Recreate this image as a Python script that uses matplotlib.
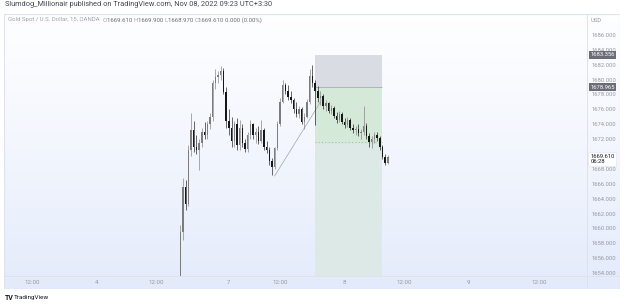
import numpy as np
import matplotlib.pyplot as plt
from matplotlib.patches import Rectangle
from matplotlib.transforms import blended_transform_factory

plt.rcParams['font.family'] = ['Roboto', 'DejaVu Sans']

# x axis = number of 15 min bars since Nov 3 12:00, candles are 30 min
fri_start, fri_count = 110, 18
mon_start, mon_count = 146, 60

opens = [1651.0, 1659.5, 1665.5, 1663.3, 1670.5, 1673.2, 1671.0, 1670.6, 1671.5, 1673.0,
         1672.5, 1674.0, 1675.0, 1679.5, 1680.3, 1680.6, 1681.2, 1678.3,
         1674.5, 1673.5, 1671.8, 1674.0, 1671.2, 1673.5, 1671.5, 1670.7, 1672.5, 1674.0,
         1672.5, 1673.0, 1671.8, 1673.2, 1671.0, 1670.6, 1669.0, 1668.2, 1670.8, 1674.0,
         1677.0, 1679.3, 1678.5, 1677.6, 1677.2, 1676.0, 1675.4, 1676.0, 1674.3, 1675.0,
         1677.0, 1680.5, 1679.5, 1678.5, 1677.5, 1677.8, 1676.4, 1676.8, 1675.8, 1676.2,
         1675.1, 1674.6, 1675.4, 1674.3, 1673.9, 1674.6, 1673.5, 1673.2, 1673.4, 1672.8,
         1673.0, 1673.8, 1672.4, 1671.6, 1672.0, 1672.6, 1672.2, 1671.0, 1669.6, 1668.8]
highs = [1660.5, 1666.8, 1666.5, 1671.2, 1675.5, 1674.5, 1672.5, 1672.0, 1673.5, 1674.3,
         1674.5, 1675.5, 1680.0, 1681.4, 1681.2, 1681.8, 1681.5, 1679.0,
         1676.0, 1675.0, 1674.5, 1674.8, 1674.6, 1674.0, 1672.0, 1673.0, 1674.6, 1674.2,
         1673.5, 1673.8, 1674.6, 1673.5, 1671.8, 1671.0, 1669.5, 1671.0, 1674.5, 1677.5,
         1679.9, 1679.6, 1679.3, 1678.5, 1677.5, 1677.0, 1676.5, 1676.3, 1675.5, 1677.4,
         1681.4, 1682.0, 1680.0, 1679.2, 1678.5, 1678.0, 1677.2, 1677.0, 1676.6, 1676.4,
         1675.6, 1675.8, 1675.6, 1674.8, 1675.0, 1674.8, 1674.0, 1673.8, 1674.0, 1673.3,
         1676.5, 1674.2, 1672.8, 1672.4, 1672.9, 1673.0, 1672.4, 1671.2, 1670.0, 1669.9]
lows = [1650.0, 1658.5, 1662.5, 1663.0, 1669.8, 1670.3, 1670.0, 1667.9, 1671.0, 1672.0,
        1672.0, 1673.3, 1674.5, 1678.8, 1679.6, 1680.0, 1678.0, 1673.5,
        1672.5, 1671.0, 1671.0, 1670.5, 1670.6, 1671.0, 1670.3, 1670.3, 1672.0, 1672.0,
        1671.5, 1671.3, 1671.5, 1670.5, 1670.2, 1668.5, 1667.2, 1668.0, 1670.5, 1673.8,
        1676.8, 1678.0, 1677.3, 1676.8, 1675.5, 1675.0, 1674.8, 1674.0, 1673.3, 1674.8,
        1676.7, 1679.0, 1673.9, 1677.0, 1676.6, 1676.0, 1675.8, 1675.5, 1675.4, 1674.8,
        1674.2, 1674.3, 1674.0, 1673.5, 1673.6, 1673.2, 1672.8, 1672.6, 1672.4, 1672.0,
        1672.6, 1672.0, 1671.0, 1670.8, 1671.5, 1671.8, 1670.6, 1669.3, 1668.5, 1668.6]
closes = [1659.5, 1665.5, 1663.3, 1670.5, 1673.2, 1671.0, 1670.6, 1671.5, 1673.0, 1672.5,
          1674.0, 1675.0, 1679.5, 1680.3, 1680.6, 1681.2, 1678.3, 1674.5,
          1673.5, 1671.8, 1674.0, 1671.2, 1673.5, 1671.5, 1670.7, 1672.5, 1674.0, 1672.5,
          1673.0, 1671.8, 1673.2, 1671.0, 1670.6, 1669.0, 1668.2, 1670.8, 1674.0, 1677.0,
          1679.3, 1678.5, 1677.6, 1677.2, 1676.0, 1675.4, 1676.0, 1674.3, 1675.0, 1677.0,
          1680.5, 1679.5, 1678.5, 1677.5, 1677.8, 1676.4, 1676.8, 1675.8, 1676.2, 1675.1,
          1674.6, 1675.4, 1674.3, 1673.9, 1674.6, 1673.5, 1673.2, 1673.4, 1672.8, 1673.0,
          1673.8, 1672.4, 1671.6, 1672.0, 1672.6, 1672.2, 1671.0, 1669.6, 1668.8, 1669.61]

# short position tool
pos_start, pos_end = 210, 260
stop_price = 1683.356
entry_price = 1678.965
now_price = 1671.4
target_price = 1650.0

# trend line drawn by the author
trend_x = [180, 214]
trend_y = [1667.05, 1677.0]

tick_slots = [0, 48, 92, 146, 184, 232, 276, 324, 376]
tick_names = ["12:00", "4", "12:00", "7", "12:00", "8", "12:00", "9", "12:00"]
price_ticks = [1654, 1656, 1658, 1660, 1662, 1664, 1666, 1668, 1672, 1674, 1676, 1678,
               1680, 1682, 1684, 1686]

W, H = 625, 306
fig = plt.figure(figsize=(W / 100, H / 100), dpi=100)

# panel background with the TradingView gradient
bg = fig.add_axes([4 / W, 1 - 289 / H, 616 / W, 275 / H])
grad = np.linspace(0, 1, 256)[:, None]
top_c = np.array([0.995, 0.997, 1.0])
bot_c = np.array([0.89, 0.92, 0.985])
img = top_c + (bot_c - top_c) * grad[:, :, None] ** 1.2
bg.imshow(img, aspect='auto', extent=[0, 1, 0, 1], origin='upper')
bg.set_xlim(0, 1)
bg.set_ylim(0, 1)
bg.axis('off')
border = '#dfe2ea'
bg.add_patch(Rectangle((0, 0), 1, 1, fill=False, edgecolor=border, lw=0.8, transform=bg.transAxes))
bg.axhline((289 - 275.5) / 275, color=border, lw=0.7)
bg.axvline((586.7 - 4) / 616, color=border, lw=0.7)

ax = fig.add_axes([4 / W, 1 - 275.5 / H, 582.7 / W, 261.5 / H])
ax.patch.set_alpha(0)
for s in ax.spines.values():
    s.set_visible(False)
ax.set_xlim(-20.8, 411.5)
ax.set_ylim(1653.67, 1688.82)

# position tool
ax.add_patch(Rectangle((pos_start, entry_price), pos_end - pos_start, stop_price - entry_price,
                       facecolor='#dadce3', edgecolor='none', zorder=1))
ax.add_patch(Rectangle((pos_start, now_price), pos_end - pos_start, entry_price - now_price,
                       facecolor='#d5e9d9', edgecolor='none', zorder=1))
ax.add_patch(Rectangle((pos_start, target_price), pos_end - pos_start, now_price - target_price,
                       facecolor='#dde9e6', edgecolor='none', zorder=1))
ax.hlines(entry_price, pos_start, pos_end, color='#a9abb3', lw=0.6, zorder=1.5)
ax.hlines(now_price + 0.15, pos_start, pos_end, color='#9aa09e', lw=0.6, linestyles=(0, (1, 3)), zorder=1.5)

ax.plot(trend_x, trend_y, color='#a0a3aa', lw=0.5, zorder=2)

# candles
slots = np.concatenate([fri_start + 2 * np.arange(fri_count), mon_start + 2 * np.arange(mon_count)])
o = np.array(opens)
c = np.array(closes)
up = c >= o
cols = np.where(up, '#7c7c7c', '#161616')
ax.vlines(slots, lows, highs, colors=cols, lw=0.45, zorder=3)
ax.bar(slots, np.maximum(np.abs(c - o), 0.08), bottom=np.minimum(o, c), width=1.05,
       color=cols, zorder=3, linewidth=0)

# axes labels
ax.set_xticks(tick_slots)
ax.set_xticklabels(tick_names)
ax.yaxis.tick_right()
ax.set_yticks(price_ticks)
ax.set_yticklabels([f"{p:.3f}" for p in price_ticks])
ax.tick_params(axis='x', length=0, pad=3.2, labelsize=4.4, labelcolor='#9598a1')
ax.tick_params(axis='y', length=0, pad=3.2, labelsize=4.2, labelcolor='#9598a1')

tr = blended_transform_factory(ax.transAxes, ax.transData)
box_kw = dict(boxstyle='square,pad=0.25', facecolor='#6a6d78', edgecolor='none')
ax.text(1.006, stop_price, f"{stop_price:.3f}", transform=tr, fontsize=4.2, color='white',
        va='center', ha='left', bbox=box_kw, zorder=6, clip_on=False)
ax.text(1.006, entry_price, f"{entry_price:.3f}", transform=tr, fontsize=4.2, color='white',
        va='center', ha='left', bbox=box_kw, zorder=6, clip_on=False)
ax.text(1.006, closes[-1] + 0.45, f"{closes[-1]:.3f}\n06:28", transform=tr, fontsize=4.2,
        color='#131722', va='top', ha='left', linespacing=1.1,
        bbox=dict(boxstyle='square,pad=0.3', facecolor='white', edgecolor='#e0e3eb', lw=0.4),
        zorder=6, clip_on=False)
fig.text(591 / W, 1 - 20 / H, "USD", fontsize=4.2, color='#9598a1', va='center')

# header and legend
fig.text(5 / W, 1 - 5 / H, "Slumdog_Millionair published on TradingView.com, Nov 08, 2022 09:23 UTC+3:30",
         fontsize=5.3, color='#434651', va='center')
legend = [("Gold Spot / U.S. Dollar, 15, OANDA  ", '#a0a3ab'), ("O", '#a0a3ab'), ("1669.610 ", '#6a6d78'),
          ("H", '#a0a3ab'), ("1669.900 ", '#6a6d78'), ("L", '#a0a3ab'), ("1668.970 ", '#6a6d78'),
          ("C", '#a0a3ab'), ("1669.610 ", '#6a6d78'), ("0.000 (0.00%)", '#6a6d78')]
x = 8 / W
rend = fig.canvas.get_renderer()
for txt, col in legend:
    t = fig.text(x, 1 - 20 / H, txt, fontsize=4.3, color=col, va='center')
    x += t.get_window_extent(rend).width / W

fig.text(5 / W, 1 - 297.5 / H, "TV", fontsize=5, fontweight='bold', color='#131722', va='center')
fig.text(14 / W, 1 - 297.5 / H, "TradingView", fontsize=4.6, color='#131722', va='center')

fig.savefig("out.png", dpi=100)
